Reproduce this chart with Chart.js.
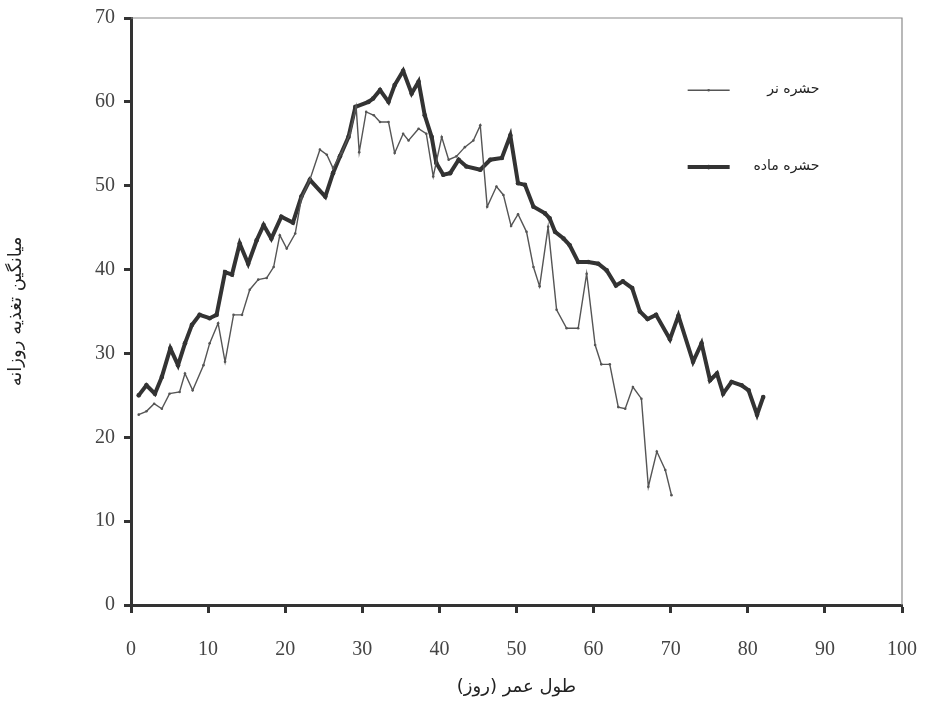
<!DOCTYPE html>
<html lang="fa">
<head>
<meta charset="utf-8">
<title>میانگین تغذیه روزانه</title>
<script src="https://cdn.jsdelivr.net/npm/chart.js@4.4.1/dist/chart.umd.min.js"></script>
<style>
	html, body { margin: 0; padding: 0; background: #fff; }
	#box { width: 925px; height: 702px; }
</style>
</head>
<body>
<div id="box"><canvas id="chart" width="925" height="702"></canvas></div>
<script>
const seriesLabels = [ "حشره نر", "حشره ماده" ];
const xTitle = "طول عمر (روز)";
const yTitle = "میانگین تغذیه روزانه";

// روز / مقدار، خوانده شده از شکل
const maleDays = [ 1, 2, 3, 4, 5, 6.3, 7, 8, 9.4, 10.2, 11.3, 12.2, 13.3, 14.4, 15.4, 16.5, 17.6, 18.5,
		19.3, 20.2, 21.3, 22.1, 23.2, 24.5, 25.4, 26.2, 27.3, 28.4, 29.2, 29.6, 30.5, 31.5, 32.3, 33.4,
		34.2, 35.3, 36.0, 37.3, 38.3, 39.2, 40.3, 41.2, 42.2, 43.3, 44.4, 45.3, 46.2, 47.4, 48.3, 49.3,
		50.2, 51.3, 52.2, 53.0, 54.1, 55.2, 56.5, 58.0, 59.1, 60.2, 61.0, 62.1, 63.2, 64.1, 65.1, 66.2,
		67.1, 68.2, 69.3, 70.1 ];
const maleFeeding = [ 22.7, 23.1, 24.0, 23.4, 25.2, 25.4, 27.6, 25.6, 28.6, 31.2, 33.6, 29.0, 34.6, 34.6,
		37.6, 38.8, 39.0, 40.3, 44.1, 42.5, 44.3, 48.5, 50.7, 54.3, 53.7, 52.1, 53.9, 56.2, 59.4, 54.0,
		58.8, 58.4, 57.6, 57.6, 53.9, 56.2, 55.4, 56.8, 56.2, 51.1, 55.8, 53.1, 53.5, 54.6, 55.4, 57.2,
		47.5, 49.9, 48.9, 45.2, 46.6, 44.5, 40.3, 38.0, 45.1, 35.2, 33.0, 33.0, 39.5, 31.0, 28.7, 28.7,
		23.6, 23.4, 26.0, 24.6, 14.1, 18.3, 16.1, 13.1 ];

const femaleDays = [ 1, 2, 3.1, 4, 5.1, 6.1, 7, 7.9, 8.9, 10.2, 11.1, 12.2, 13.1, 14.1, 15.2, 16.3, 17.2,
		18.2, 19.5, 21.0, 22.1, 23.2, 25.2, 26.2, 27.1, 28.2, 29.1, 30.8, 31.4, 32.3, 33.4, 34.2, 35.3,
		36.4, 37.3, 38.1, 39.0, 39.6, 40.5, 41.4, 42.5, 43.5, 45.3, 46.6, 48.1, 49.2, 50.2, 51.1, 52.2,
		53.7, 54.3, 55.0, 56.1, 56.9, 58.0, 59.3, 60.6, 61.7, 62.9, 63.8, 65.0, 66.0, 67.0, 68.1, 69.9,
		71.0, 72.9, 74.0, 75.1, 76.0, 76.8, 77.9, 79.2, 80.1, 81.2, 82.0 ];
const femaleFeeding = [ 25.0, 26.2, 25.2, 27.2, 30.6, 28.6, 31.2, 33.4, 34.6, 34.2, 34.6, 39.7, 39.4, 43.1,
		40.7, 43.5, 45.3, 43.7, 46.3, 45.6, 48.7, 50.7, 48.7, 51.5, 53.5, 55.8, 59.4, 60.0, 60.4, 61.4,
		60.0, 62.0, 63.7, 61.0, 62.4, 58.4, 55.8, 52.7, 51.3, 51.5, 53.1, 52.3, 51.9, 53.1, 53.3, 56.0,
		50.3, 50.1, 47.5, 46.7, 46.1, 44.5, 43.7, 42.9, 40.9, 40.9, 40.7, 39.9, 38.1, 38.6, 37.8, 35.0,
		34.1, 34.6, 31.7, 34.5, 29.0, 31.2, 26.8, 27.6, 25.2, 26.6, 26.2, 25.6, 22.7, 24.8 ];

const xMin = 0, xMax = 100, xStep = 10;
const yMin = 0, yMax = 70, yStep = 10;

function ToPoints(days, values)
{
	return days.map((d, i) => ({ x: d, y: values[i] }));
}

class FeedingChart
{
	#chart;

	constructor()
	{
		this.DrawChart();
	}

	DrawChart()
	{
		// قاب نازک بالا و راست
		const frame = {
			id: "frame",
			beforeDatasetsDraw(chart)
			{
				const { ctx, chartArea: { top, right, bottom, left } } = chart;
				ctx.save();
				ctx.strokeStyle = "#8a8a8a";
				ctx.lineWidth = 1.2;
				ctx.beginPath();
				ctx.moveTo(left, top);
				ctx.lineTo(right, top);
				ctx.lineTo(right, bottom);
				ctx.stroke();
				ctx.restore();
			}
		};

		// راهنما داخل ناحیه نمودار
		const insideLegend = {
			id: "insideLegend",
			afterDraw(chart)
			{
				const { ctx, chartArea: { top, left, width, height } } = chart;
				const rows = [ 0.123, 0.254 ];
				ctx.save();
				chart.data.datasets.forEach((ds, i) =>
				{
					const y = top + rows[i] * height;
					const x0 = left + 0.722 * width;
					const x1 = x0 + 42;
					ctx.strokeStyle = ds.borderColor;
					ctx.lineWidth = ds.borderWidth;
					ctx.beginPath();
					ctx.moveTo(x0, y);
					ctx.lineTo(x1, y);
					ctx.stroke();
					ctx.fillStyle = ds.borderColor;
					ctx.beginPath();
					ctx.arc((x0 + x1) / 2, y, ds.pointRadius, 0, Math.PI * 2);
					ctx.fill();

					ctx.fillStyle = "#222";
					ctx.font = "14px 'DejaVu Sans'";
					ctx.direction = "rtl";
					ctx.textAlign = "right";
					ctx.textBaseline = "middle";
					ctx.fillText(ds.label, left + 0.893 * width, y - 1);
				});
				ctx.restore();
			}
		};

		const ctx = document.getElementById("chart");
		this.#chart = new Chart(ctx, {
			type: "line",
			data: {
				datasets: [{
					label: seriesLabels[0],
					data: ToPoints(maleDays, maleFeeding),
					borderColor: "#555555",
					backgroundColor: "#555555",
					borderWidth: 1.4,
					pointRadius: 1.3,
					pointBorderWidth: 0,
					tension: 0,
				},
				{
					label: seriesLabels[1],
					data: ToPoints(femaleDays, femaleFeeding),
					borderColor: "#333333",
					backgroundColor: "#333333",
					borderWidth: 4,
					pointRadius: 2.3,
					pointBorderWidth: 0,
					tension: 0,
				}]
			},
			options: {
				responsive: false,
				animation: false,
				layout: {
					padding: { top: 18, right: 23, left: 0, bottom: 0 }
				},
				plugins: {
					legend: { display: false },
					tooltip: { enabled: false },
				},
				scales: {
					x: {
						type: "linear",
						min: xMin,
						max: xMax,
						afterFit(scale)
						{
							scale.height = 97;
							scale.paddingLeft = 0;
							scale.paddingRight = 0;
						},
						border: { color: "#333", width: 3 },
						grid: {
							drawOnChartArea: false,
							drawTicks: true,
							tickLength: 8,
							tickColor: "#333",
							tickWidth: 3,
						},
						ticks: {
							stepSize: xStep,
							padding: 25,
							color: "#444",
							font: { family: "'Liberation Serif'", size: 20 },
							maxRotation: 0,
						},
						title: {
							display: true,
							text: xTitle,
							color: "#222",
							font: { family: "'DejaVu Sans'", size: 18 },
							padding: { top: 0, bottom: 4 },
						}
					},
					y: {
						min: yMin,
						max: yMax,
						afterFit(scale)
						{
							scale.width = 131;
							scale.paddingTop = 0;
							scale.paddingBottom = 0;
						},
						border: { color: "#333", width: 3 },
						grid: {
							drawOnChartArea: false,
							drawTicks: true,
							tickLength: 7,
							tickColor: "#333",
							tickWidth: 3,
						},
						ticks: {
							stepSize: yStep,
							padding: 9,
							color: "#444",
							font: { family: "'Liberation Serif'", size: 20 },
						},
						title: {
							display: true,
							text: yTitle,
							color: "#222",
							font: { family: "'DejaVu Sans'", size: 18 },
							padding: { top: 6, bottom: 30 },
						}
					}
				}
			},
			plugins: [ frame, insideLegend ],
		});
	}
}

new FeedingChart();
</script>
</body>
</html>
